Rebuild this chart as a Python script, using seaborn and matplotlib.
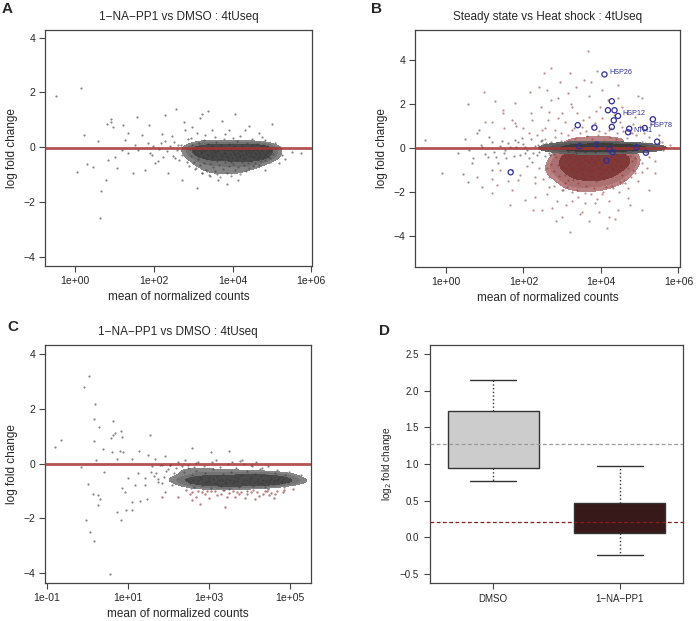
import numpy as np
import pandas as pd
import seaborn as sns
import matplotlib.pyplot as plt
from matplotlib.ticker import NullLocator
from matplotlib.colors import LinearSegmentedColormap

sns.set_style("ticks")
plt.rcParams['font.family'] = ['Liberation Sans', 'DejaVu Sans']

# ========== DATA (log10 mean of normalized counts, log fold change) ==========
# Panel A: 1-NA-PP1 vs DMSO, all points non-significant (grey)
a_sparse = [(-0.50, 1.89), (0.14, 2.18), (0.63, -2.59), (0.655, -1.58), (0.04, -0.90), (0.23, 0.45),
            (0.30, -0.62), (0.44, -0.73), (0.77, -1.20), (0.81, 0.84), (0.92, 1.05), (0.90, 0.92),
            (0.97, 0.74), (1.21, 0.83), (1.33, 0.52), (1.57, 1.11), (1.88, 0.83), (2.28, 1.18),
            (2.56, 1.41), (2.76, 0.94), (2.96, 0.74), (3.18, 1.07), (3.22, 1.20), (3.37, 1.33),
            (3.72, 0.97), (4.06, 1.23), (4.41, 0.77), (5.00, 0.84), (5.21, 0.00), (5.51, -0.16),
            (5.73, -0.20), (2.72, -1.18), (3.10, -1.50), (3.87, -1.34), (3.43, -1.06), (4.45, -0.77),
            (5.34, -0.43), (1.02, -0.37), (1.48, -0.94), (1.77, -0.84), (2.03, -0.57), (2.37, -0.94),
            (1.05, -0.75), (0.59, 0.22), (1.27, 0.28), (1.69, 0.46), (2.20, 0.50), (2.45, 0.40),
            (2.79, 0.64), (1.35, -0.21), (1.60, -0.09), (1.94, -0.27), (2.11, -0.51), (2.54, -0.39),
            (2.88, -0.69), (0.82, -0.45), (1.18, -0.09), (1.52, 0.10), (1.86, 0.16), (2.28, 0.22),
            (2.62, 0.10), (2.71, -0.27), (3.90, 0.64), (4.32, 0.64), (4.66, 0.52), (4.83, 0.28),
            (5.08, 0.16), (5.17, -0.57), (4.83, -0.82), (4.15, -1.18), (3.64, -1.18), (3.22, -0.94),
            (3.47, 0.64), (3.09, 0.52), (2.32, -0.12), (2.40, 0.05), (2.48, -0.30), (2.52, 0.18),
            (2.58, -0.08), (2.63, -0.45), (2.68, 0.10), (2.74, -0.20), (2.80, 0.02), (2.84, -0.55),
            (2.87, 0.30), (2.90, -0.15), (2.12, -0.05), (2.18, 0.15), (2.24, -0.35), (1.98, 0.05),
            (1.90, -0.20), (3.30, 0.45), (3.55, 0.38), (3.80, 0.50), (4.00, 0.35), (4.20, 0.42),
            (4.50, 0.30), (4.75, 0.36), (3.35, -0.85), (3.60, -0.98), (3.95, -0.92), (4.25, -0.88),
            (4.55, -0.70), (4.95, -0.55), (5.10, -0.35), (5.25, -0.28), (3.05, -0.80), (2.95, 0.35)]
a_core = [(2.92, -0.05), (2.95, -0.31), (2.98, 0.08), (3.01, -0.52), (3.03, -0.12), (3.06, -0.74),
          (3.08, 0.02), (3.10, -0.25), (3.12, -0.41), (3.14, 0.15), (3.16, -0.08), (3.18, -0.63),
          (3.19, -0.19), (3.21, -0.95), (3.23, -0.03), (3.25, -0.35), (3.27, 0.27), (3.28, -0.56),
          (3.30, -0.14), (3.32, -0.81), (3.33, -0.02), (3.35, -0.44), (3.37, 0.11), (3.38, -0.27),
          (3.40, -1.02), (3.42, -0.09), (3.43, -0.60), (3.45, -0.21), (3.47, 0.04), (3.48, -0.37),
          (3.50, -0.72), (3.52, -0.05), (3.53, -0.18), (3.55, -0.88), (3.57, 0.19), (3.58, -0.31),
          (3.60, -0.50), (3.62, -0.02), (3.63, -0.13), (3.65, -0.66), (3.67, -0.26), (3.68, -1.10),
          (3.70, 0.08), (3.72, -0.42), (3.73, -0.07), (3.75, -0.79), (3.77, -0.20), (3.78, 0.31),
          (3.80, -0.55), (3.82, -0.04), (3.83, -0.33), (3.85, -0.93), (3.87, -0.11), (3.88, -0.47),
          (3.90, 0.12), (3.92, -0.68), (3.93, -0.24), (3.95, -0.03), (3.97, -1.04), (3.98, -0.38),
          (4.00, -0.15), (4.02, -0.60), (4.03, 0.05), (4.05, -0.29), (4.07, -0.84), (4.08, -0.06),
          (4.10, -0.45), (4.12, 0.22), (4.13, -0.19), (4.15, -0.73), (4.17, -0.02), (4.18, -0.36),
          (4.20, -0.97), (4.22, -0.12), (4.23, -0.53), (4.25, 0.09), (4.27, -0.27), (4.28, -0.65),
          (4.30, -0.04), (4.32, -0.40), (4.33, -0.86), (4.35, -0.16), (4.37, 0.16), (4.38, -0.58),
          (4.40, -0.08), (4.42, -0.33), (4.43, -0.76), (4.45, -0.02), (4.47, -0.22), (4.48, -0.49),
          (4.50, 0.07), (4.52, -0.68), (4.53, -0.14), (4.55, -0.37), (4.57, -0.03), (4.58, -0.57),
          (4.60, -0.25), (4.62, 0.12), (4.63, -0.44), (4.65, -0.09), (4.67, -0.63), (4.68, -0.18),
          (4.70, -0.31), (4.72, 0.03), (4.73, -0.50), (4.75, -0.12), (4.77, -0.38), (4.78, 0.10),
          (4.80, -0.22), (4.82, -0.45), (4.84, -0.06), (4.86, -0.29), (4.88, 0.05), (4.90, -0.35),
          (4.93, -0.15), (4.96, -0.40), (4.99, -0.08), (5.03, -0.25),
          (3.00, -0.06), (3.09, -0.09), (3.17, -0.04), (3.26, -0.10), (3.34, -0.07), (3.41, -0.03),
          (3.49, -0.11), (3.56, -0.06), (3.64, -0.08), (3.71, -0.02), (3.79, -0.10), (3.86, -0.05),
          (3.94, -0.09), (4.01, -0.03), (4.09, -0.07), (4.16, -0.11), (4.24, -0.05), (4.31, -0.09),
          (4.39, -0.03), (4.46, -0.08), (4.54, -0.06), (4.61, -0.10), (4.69, -0.04), (4.76, -0.07),
          (4.83, -0.02), (4.91, -0.05),
          (3.04, -0.22), (3.13, -0.30), (3.22, -0.17), (3.29, -0.40), (3.36, -0.23), (3.44, -0.46),
          (3.51, -0.28), (3.59, -0.16), (3.66, -0.41), (3.74, -0.30), (3.81, -0.19), (3.89, -0.34),
          (3.96, -0.52), (4.04, -0.21), (4.11, -0.36), (4.19, -0.27), (4.26, -0.43), (4.34, -0.24),
          (4.41, -0.17), (4.49, -0.32), (4.56, -0.20), (4.64, -0.35), (4.71, -0.23), (4.79, -0.30),
          (4.87, -0.17)]

# Panel B: steady state vs heat shock
b_grey_sparse = [(0.58, 2.02), (0.84, 0.83), (0.79, 0.68), (-0.54, 0.38), (-0.11, -1.14), (0.45, -1.18),
                 (0.58, -1.52), (1.35, -0.68), (1.09, -0.38), (1.53, -0.08), (1.78, 0.38), (2.04, -0.23),
                 (2.21, -0.61), (2.47, 0.38), (2.65, -0.23), (0.92, 0.08), (0.66, -0.68), (1.18, -0.98),
                 (2.30, 0.10), (2.40, -0.15), (2.50, 0.20), (2.60, -0.05), (2.70, 0.30), (2.80, -0.25),
                 (2.90, 0.12), (3.00, -0.18), (2.45, 0.35), (2.55, -0.35), (2.65, 0.08), (2.75, -0.10),
                 (2.85, 0.25), (2.95, -0.02), (2.00, 0.20), (2.10, -0.10), (2.20, 0.40), (1.90, -0.30),
                 (1.80, 0.05), (1.60, 0.25), (1.50, -0.20), (1.40, 0.12), (2.15, -0.45), (2.35, -0.30),
                 (1.95, 0.45), (1.30, -0.40), (1.20, 0.30), (1.00, -0.25), (0.90, 0.15), (0.70, -0.45),
                 (5.00, 0.15), (5.10, -0.05), (5.20, 0.10), (5.30, 0.02), (5.45, 0.12), (5.60, -0.08),
                 (0.30, -0.20), (0.50, 0.40), (0.60, -0.10), (1.10, 0.50), (1.25, -0.15), (1.45, 0.35),
                 (1.55, -0.45), (1.65, 0.05), (1.75, -0.35), (1.85, 0.30), (2.05, 0.05), (2.25, -0.20),
                 (2.38, 0.15), (2.52, -0.05), (2.58, 0.25), (2.68, -0.30), (2.78, 0.10), (2.88, -0.12),
                 (2.98, 0.32), (3.05, 0.12), (5.05, 0.30), (5.15, -0.15), (5.25, 0.20), (5.35, -0.10),
                 (5.50, 0.25)]
b_grey_core = [(3.10, 0.05), (3.15, -0.12), (3.20, 0.18), (3.25, -0.05), (3.30, 0.10), (3.35, -0.20),
               (3.40, 0.02), (3.45, 0.25), (3.50, -0.08), (3.55, 0.12), (3.60, -0.15), (3.65, 0.04),
               (3.70, 0.20), (3.75, -0.03), (3.80, 0.08), (3.85, -0.18), (3.90, 0.15), (3.95, -0.06),
               (4.00, 0.03), (4.05, 0.22), (4.10, -0.10), (4.15, 0.06), (4.20, -0.02), (4.25, 0.14),
               (4.30, -0.12), (4.35, 0.05), (4.40, 0.18), (4.45, -0.05), (4.50, 0.08), (4.55, -0.14),
               (4.60, 0.02), (4.65, 0.12), (4.70, -0.04), (4.75, 0.06), (4.80, -0.10), (4.85, 0.10),
               (4.90, 0.00), (4.95, 0.05), (3.13, 0.00), (3.23, 0.06), (3.33, -0.02), (3.43, 0.08),
               (3.53, 0.01), (3.63, -0.04), (3.73, 0.05), (3.83, 0.02), (3.93, -0.01), (4.03, 0.07),
               (4.13, 0.00), (4.23, 0.04), (4.33, -0.03), (4.43, 0.06), (4.53, 0.01), (4.63, -0.02),
               (4.73, 0.03), (4.83, 0.04)]
b_red_sparse = [(3.67, 4.42), (2.71, 3.64), (2.52, 3.41), (3.20, 3.44), (3.55, 3.11), (3.89, 3.52),
                (0.97, 2.56), (1.27, 2.15), (1.77, 2.05), (2.17, 2.55), (2.60, 2.65), (2.90, 2.27),
                (3.16, 2.50), (4.02, 2.65), (4.45, 2.27), (5.06, 2.27), (1.46, 1.74), (1.46, 1.59),
                (1.18, 1.21), (1.78, 1.14), (2.21, 1.29), (2.65, 1.67), (2.99, 1.59), (3.25, 1.89),
                (3.68, 1.44), (3.98, 1.89), (4.54, 1.89), (4.88, 1.44), (5.23, 0.53), (5.57, 0.30),
                (5.79, 0.15), (0.92, -1.74), (1.18, -2.05), (1.31, -1.67), (1.65, -2.58), (1.70, -1.89),
                (2.04, -2.35), (2.30, -2.20), (2.73, -2.73), (2.99, -3.11), (3.21, -3.79), (3.68, -3.33),
                (4.15, -3.64), (4.20, -3.11), (4.45, -2.80), (5.06, -2.83), (4.71, -2.27), (5.23, -1.89),
                (5.40, -1.14), (2.47, -2.80), (3.25, -2.42), (3.85, -2.50), (3.51, -2.88), (1.70, -0.98),
                (1.87, -1.44), (2.30, -1.29), (2.65, -1.74), (2.82, 0.83), (2.47, 0.83), (2.13, 0.68),
                (1.70, 1.29), (3.25, 0.83), (3.51, 0.98), (3.85, 1.14), (4.20, 0.83), (4.54, 0.98),
                (4.80, 0.68), (5.14, 0.23), (5.23, -0.38), (5.06, -0.68), (4.88, -1.14), (4.63, -1.59),
                (2.99, -1.89), (2.90, -1.14),
                (2.00, 0.90), (2.10, -0.80), (2.20, 1.60), (2.30, -1.60), (2.35, 0.60), (2.40, -0.90),
                (2.45, 1.90), (2.50, -1.40), (2.55, 0.90), (2.60, -2.10), (2.62, 1.30), (2.68, -0.60),
                (2.72, 2.20), (2.78, -1.70), (2.82, 0.50), (2.86, -2.40), (2.90, 1.40), (2.94, -1.30),
                (2.98, 0.70), (3.02, -1.90), (3.06, 1.20), (3.10, -2.60), (3.14, 0.60), (3.18, -1.50),
                (3.22, 2.00), (3.26, -2.00), (3.30, 0.90), (3.34, -1.70), (3.38, 1.60), (3.42, -2.20),
                (3.46, 0.70), (3.50, -1.80), (3.54, 1.30), (3.58, -2.50), (3.62, 0.80), (3.66, -1.60),
                (3.70, 2.40), (3.74, -2.10), (3.78, 1.00), (3.82, -1.40), (3.86, 1.70), (3.90, -2.30),
                (3.94, 0.80), (3.98, -1.70), (4.02, 1.40), (4.06, -2.00), (4.10, 0.70), (4.14, -1.50),
                (4.18, 2.20), (4.22, -2.40), (4.26, 0.90), (4.30, -1.80), (4.34, 1.50), (4.38, -1.30),
                (4.42, 0.70), (4.46, -2.00), (4.50, 1.20), (4.54, -1.60), (4.58, 0.80), (4.62, -1.10),
                (4.66, 1.60), (4.70, -1.80), (4.74, 0.70), (4.78, -1.30), (4.82, 1.10), (4.86, -0.90),
                (4.90, 0.60), (4.95, -1.50), (5.00, 1.00), (5.05, -1.10), (5.12, 0.70), (5.20, -0.90),
                (5.30, 1.10), (5.40, -0.60), (5.50, 0.60), (1.90, -1.20), (1.80, 1.00), (1.60, -1.50),
                (1.50, 0.90), (1.40, -1.00), (1.20, -1.40), (1.00, 1.20), (0.80, -1.30), (2.25, -2.80),
                (2.85, -3.30), (3.45, -3.00), (3.95, -2.90), (4.35, -3.20), (4.75, -2.60), (2.40, 2.80),
                (2.95, 3.00), (3.35, 2.80), (3.75, 3.00), (4.45, 2.90), (4.95, 2.40)]
b_red_core = [(2.95, -0.45), (3.00, -0.85), (3.03, -0.30), (3.06, -1.20), (3.09, -0.60), (3.12, -0.15),
              (3.14, -1.45), (3.17, -0.75), (3.20, -0.40), (3.22, -1.00), (3.25, -0.22), (3.27, -0.90),
              (3.30, -0.55), (3.32, -1.30), (3.35, -0.35), (3.37, -0.70), (3.40, -1.60), (3.42, -0.48),
              (3.45, -0.95), (3.47, -0.20), (3.50, -0.65), (3.52, -1.15), (3.55, -0.38), (3.57, -0.82),
              (3.60, -1.40), (3.62, -0.52), (3.65, -0.28), (3.67, -0.98), (3.70, -0.62), (3.72, -1.25),
              (3.75, -0.42), (3.77, -0.78), (3.80, -0.18), (3.82, -1.05), (3.85, -0.58), (3.87, -1.50),
              (3.90, -0.35), (3.92, -0.88), (3.95, -0.50), (3.97, -1.18), (4.00, -0.25), (4.02, -0.72),
              (4.05, -0.45), (4.07, -1.00), (4.10, -0.60), (4.12, -1.32), (4.15, -0.30), (4.17, -0.85),
              (4.20, -0.55), (4.22, -1.10), (4.25, -0.38), (4.27, -0.70), (4.30, -0.20), (4.32, -0.95),
              (4.35, -0.48), (4.38, -0.78), (4.41, -0.32), (4.44, -1.05), (4.47, -0.60), (4.50, -0.40),
              (4.53, -0.82), (4.57, -0.28), (4.61, -0.65), (4.65, -0.45), (4.70, -0.90), (4.75, -0.35),
              (4.80, -0.60), (4.88, -0.42),
              (3.05, 0.25), (3.18, 0.35), (3.33, 0.45), (3.48, 0.30), (3.63, 0.55), (3.78, 0.40),
              (3.93, 0.60), (4.08, 0.35), (4.23, 0.50), (4.38, 0.42), (4.53, 0.30), (4.68, 0.48),
              (4.85, 0.25), (3.12, -1.75), (3.38, -1.90), (3.58, -2.05), (3.83, -1.80), (4.03, -2.10),
              (4.28, -1.70), (4.48, -1.55), (2.70, -0.70), (2.80, -1.05), (2.85, -0.40), (2.60, -0.90),
              (2.75, 0.20), (2.55, 0.40), (2.65, -1.30),
              (3.10, -0.95), (3.24, -0.62), (3.36, -1.10), (3.46, -0.78), (3.58, -0.55), (3.68, -0.85),
              (3.78, -0.50), (3.88, -0.72), (3.98, -0.90), (4.08, -0.55), (4.18, -0.68), (4.28, -0.88),
              (4.40, -0.58), (3.53, -0.92), (3.73, -1.02), (3.93, -1.28), (4.13, -0.95), (3.43, -0.68),
              (3.83, -0.62), (4.03, -1.12),
              (3.15, -0.35), (3.28, -1.45), (3.41, -0.25), (3.54, -1.35), (3.66, -0.60), (3.79, -1.30),
              (3.91, -0.15), (4.04, -1.40), (4.16, -0.50), (4.29, -1.25), (4.42, -0.15), (4.55, -1.20),
              (4.68, -0.70), (4.82, -1.00), (2.88, -0.75), (2.92, -1.25), (3.08, -1.60), (3.62, -1.70),
              (4.12, -1.75), (4.60, -1.45)]
b_hsp = [(4.09, 3.36), (4.28, 2.14), (4.18, 1.73), (4.35, 1.73), (4.44, 1.47), (4.33, 1.27),
         (3.40, 1.05), (3.83, 0.94), (4.28, 0.97), (4.73, 0.89), (4.70, 0.73), (5.34, 1.32),
         (5.13, 0.92), (5.45, 0.30), (4.92, 0.05), (3.44, 0.09), (3.89, 0.17), (4.22, -0.05),
         (4.30, -0.18), (5.16, -0.20), (4.14, -0.56), (1.67, -1.09)]
b_gene_names = ['HSP26', 'HSP12', 'HSP78', 'NTH1']
b_gene_points = [(4.09, 3.36), (4.44, 1.47), (5.13, 0.92), (4.70, 0.73)]

# Panel C: 1-NA-PP1 vs DMSO (second 4tUseq)
c_grey_sparse = [(0.04, 3.22), (-0.07, 2.81), (0.20, 2.17), (0.16, 1.62), (0.29, 1.35), (0.18, 0.82),
                 (-0.79, 0.62), (-0.65, 0.88), (0.64, 1.58), (0.59, 0.95), (0.70, 1.13), (0.65, 1.05),
                 (0.84, 1.20), (0.86, 0.99), (1.56, 1.06), (0.40, 0.54), (0.61, 0.44), (0.81, 0.47),
                 (0.89, 0.44), (0.75, 0.19), (-0.15, -0.12), (0.22, 0.15), (0.42, -0.32), (0.01, -0.75),
                 (0.14, -1.12), (0.28, -1.14), (0.32, -1.29), (0.26, -1.51), (-0.02, -2.06), (0.08, -2.49),
                 (0.16, -2.82), (0.56, -4.02), (0.73, -1.75), (0.83, -2.07), (0.95, -1.68), (1.12, -1.70),
                 (0.94, -1.02), (1.12, -1.39), (1.31, -1.36), (1.47, -1.29), (1.02, -0.54), (1.26, -0.35),
                 (1.43, -0.78), (1.10, 0.19), (1.29, 0.46), (1.51, 0.32), (1.68, 0.19), (1.92, 0.29),
                 (2.58, 0.58), (3.06, 0.44), (3.50, 0.46), (3.83, 0.13), (3.57, 0.05), (1.84, -0.05),
                 (1.59, -0.29), (1.76, -0.66), (1.92, -1.02), (2.09, -0.78), (1.43, -0.54), (0.85, -0.90),
                 (1.18, -0.78), (2.05, -0.05), (2.25, 0.07), (2.42, 0.13), (2.75, 0.05), (4.06, -0.05),
                 (4.31, -0.17), (4.56, -0.29), (4.72, -0.41), (5.09, -0.47), (5.13, -0.66), (5.28, -0.41),
                 (1.60, -0.10), (1.70, -0.35), (1.80, -0.05), (1.90, -0.48), (2.00, -0.20), (2.10, -0.60),
                 (2.20, -0.15), (2.30, -0.40), (1.75, -0.55), (1.95, -0.25), (2.05, -0.05), (2.15, -0.35),
                 (2.25, -0.70), (2.35, -0.10), (1.85, -0.70), (1.65, -0.45),
                 (2.48, -0.05), (2.68, 0.02), (2.88, -0.10), (3.08, 0.05), (3.28, -0.12), (3.48, -0.02),
                 (3.68, -0.15), (3.88, 0.00), (4.08, -0.08), (4.28, -0.18), (4.48, -0.10), (4.68, -0.22),
                 (3.18, 0.12), (3.78, 0.10), (4.18, 0.05), (2.38, -0.50), (2.44, -0.22), (2.56, -0.88),
                 (2.64, -0.12), (2.86, -0.92), (3.38, -0.95), (3.96, -0.98), (4.46, -0.92), (4.86, -0.85),
                 (4.98, -0.30), (4.92, -0.78), (2.32, -0.62), (2.18, -0.52)]
c_grey_core = [(2.40, -0.30), (2.45, -0.55), (2.50, -0.15), (2.55, -0.70), (2.60, -0.42), (2.65, -0.85),
               (2.70, -0.25), (2.75, -0.60), (2.80, -0.48), (2.85, -0.78), (2.90, -0.35), (2.95, -0.65),
               (3.00, -0.52), (3.05, -0.88), (3.10, -0.20), (3.15, -0.70), (3.20, -0.45), (3.25, -0.60),
               (3.30, -0.82), (3.35, -0.38), (3.40, -0.66), (3.45, -0.55), (3.50, -0.92), (3.55, -0.30),
               (3.60, -0.72), (3.65, -0.48), (3.70, -0.62), (3.75, -0.85), (3.80, -0.40), (3.85, -0.58),
               (3.90, -0.75), (3.95, -0.25), (4.00, -0.68), (4.05, -0.50), (4.10, -0.80), (4.15, -0.36),
               (4.20, -0.62), (4.25, -0.72), (4.30, -0.45), (4.35, -0.58), (4.40, -0.85), (4.45, -0.40),
               (4.50, -0.66), (4.55, -0.52), (4.60, -0.75), (4.65, -0.35), (4.70, -0.60), (4.75, -0.48),
               (4.80, -0.70), (4.85, -0.55), (4.90, -0.40), (4.95, -0.65),
               (2.52, -0.62), (2.62, -0.58), (2.72, -0.72), (2.82, -0.55), (2.92, -0.68), (3.02, -0.62),
               (3.12, -0.55), (3.22, -0.75), (3.32, -0.60), (3.42, -0.70), (3.52, -0.58), (3.62, -0.64),
               (3.72, -0.52), (3.82, -0.70), (3.92, -0.60), (4.02, -0.57), (4.12, -0.66), (4.22, -0.55),
               (4.32, -0.70), (4.42, -0.62), (4.52, -0.58), (4.62, -0.64), (4.72, -0.56), (4.82, -0.62)]
c_red = [(4.87, -0.96), (5.09, -0.94), (4.62, -1.27), (4.15, -1.29), (3.40, -1.57), (2.80, -1.48),
         (2.58, -1.33), (2.25, -1.20), (1.84, -1.20),
         (2.45, -0.95), (2.60, -1.05), (2.75, -0.98), (2.90, -1.12), (3.05, -1.00), (3.20, -1.15),
         (3.35, -0.96), (3.50, -1.08), (3.65, -1.20), (3.80, -1.02), (3.95, -1.10), (4.10, -0.95),
         (4.25, -1.18), (4.40, -1.00), (4.55, -1.06), (4.70, -0.98), (4.85, -1.05), (2.70, -1.20),
         (3.00, -1.25), (3.30, -1.10), (3.60, -0.98), (3.90, -1.25), (4.20, -1.02), (4.50, -1.15),
         (2.55, -1.12), (3.15, -0.98), (3.75, -1.12), (4.35, -1.10), (2.95, -0.98), (3.45, -1.22),
         (4.05, -1.05), (4.65, -1.12), (2.85, -1.02), (3.70, -1.02), (4.45, -0.98)]

# Panel D: box summaries (whisker low, Q1, median, Q3, whisker high)
d_conditions = ['DMSO', '1\u2212NA\u2212PP1']
d_dmso = [0.77, 0.95, 1.28, 1.73, 2.15]
d_napp1 = [-0.24, 0.05, 0.21, 0.46, 0.97]
d_colors = ['#cccccc', '#3d1414']

GREY = '#333333'
RED = '#8e2a2a'
W, H = 697, 621


def frame(pairs):
    df = pd.DataFrame(pairs, columns=['lmean', 'lfc'])
    df['mean'] = 10 ** df['lmean']
    return df


def style_ma(ax, xexp, ylim, xtick_exp, title):
    ax.set_xscale('log')
    ax.set_xlim(10 ** xexp[0], 10 ** xexp[1])
    ax.set_ylim(*ylim)
    ax.set_xticks([10.0 ** e for e in xtick_exp])
    ax.set_xticklabels(['1e%+03d' % e for e in xtick_exp])
    ax.xaxis.set_minor_locator(NullLocator())
    ax.set_yticks([-4, -2, 0, 2, 4])
    ax.set_yticklabels(['\u22124', '\u22122', '0', '2', '4'])
    ax.set_xlabel('mean of normalized counts', fontsize=8.5)
    ax.set_ylabel('log fold change', fontsize=8.5)
    ax.set_title(title, fontsize=8.5, pad=7)
    ax.tick_params(length=4, width=0.8, color='#444444', labelsize=7.5, pad=3)
    for sp in ax.spines.values():
        sp.set_visible(True)
        sp.set_color('#444444')
        sp.set_linewidth(0.9)


def scatter(ax, pairs, color, s=2.5, alpha=0.6):
    df = frame(pairs)
    sns.scatterplot(data=df, x='mean', y='lfc', ax=ax, color=color, s=s,
                    alpha=alpha, linewidth=0, legend=False)


def density(ax, pairs, light, dark, thresh=0.1, bw=1.0):
    # dense cores of the MA clouds: opaque density shading of the core points
    df = frame(pairs)
    cmap = LinearSegmentedColormap.from_list('core', [light, dark])
    sns.kdeplot(data=df, x='mean', y='lfc', ax=ax, fill=True,
                levels=[thresh, thresh + 0.12, thresh + 0.3, 1.0],
                cmap=cmap, bw_adjust=bw, log_scale=(True, False), antialiased=False)


fig = plt.figure(figsize=(W / 100, H / 100), dpi=100)
ax_a = fig.add_axes([45 / W, (H - 266) / H, 267 / W, 236 / H])
ax_b = fig.add_axes([415 / W, (H - 267) / H, 265 / W, 237 / H])
ax_c = fig.add_axes([45 / W, (H - 583) / H, 266 / W, 238 / H])
ax_d = fig.add_axes([430 / W, (H - 583) / H, 253 / W, 238 / H])

# ---- A ----
scatter(ax_a, a_sparse, GREY)
density(ax_a, a_core, '#8c8c8c', '#2b2b2b', thresh=0.12, bw=1.1)
scatter(ax_a, a_core, GREY, s=2.5, alpha=0.5)
ax_a.axhline(-0.02, color='#a83434', lw=2.0, alpha=0.85, zorder=3)
style_ma(ax_a, (-0.77, 6.02), (-4.33, 4.28), [0, 2, 4, 6],
         '1\u2212NA\u2212PP1 vs DMSO : 4tUseq')

# ---- B ----
scatter(ax_b, b_red_sparse, RED, alpha=0.55)
density(ax_b, b_red_core, '#c08a8a', '#5e1212', thresh=0.15, bw=1.0)
scatter(ax_b, b_red_core, RED, s=2.5, alpha=0.5)
scatter(ax_b, b_grey_sparse, GREY, alpha=0.55)
density(ax_b, b_grey_core, '#6a6a6a', '#262626', thresh=0.1, bw=2.0)
scatter(ax_b, b_grey_core, GREY, s=2.5, alpha=0.5)
ax_b.axhline(0, color='#a83434', lw=2.0, alpha=0.85, zorder=3)
hsp = frame(b_hsp)
sns.scatterplot(data=hsp, x='mean', y='lfc', ax=ax_b, s=14, facecolor='none',
                edgecolor='#2f2f99', linewidth=0.9, legend=False, zorder=4)
for name, (lx, y) in zip(b_gene_names, b_gene_points):
    ax_b.annotate(name, (10 ** lx, y), xytext=(3.5, 1.5), textcoords='offset points',
                  fontsize=5.2, color='#2f2f99', va='center', ha='left', zorder=5)
style_ma(ax_b, (-0.80, 6.04), (-5.4, 5.38), [0, 2, 4, 6],
         'Steady state vs Heat shock : 4tUseq')

# ---- C ----
scatter(ax_c, c_red, RED, s=3, alpha=0.6)
scatter(ax_c, c_grey_sparse, GREY)
density(ax_c, c_grey_core, '#8c8c8c', '#2b2b2b', thresh=0.12, bw=1.2)
scatter(ax_c, c_grey_core, GREY, s=2.5, alpha=0.5)
ax_c.axhline(0, color='#a83434', lw=2.0, alpha=0.85, zorder=3)
style_ma(ax_c, (-1.04, 5.53), (-4.36, 4.34), [-1, 1, 3, 5],
         '1\u2212NA\u2212PP1 vs DMSO : 4tUseq')

# ---- D ----
box_df = pd.DataFrame({
    'cond': [d_conditions[0]] * len(d_dmso) + [d_conditions[1]] * len(d_napp1),
    'val': d_dmso + d_napp1,
})
sns.boxplot(data=box_df, x='cond', y='val', hue='cond', order=d_conditions,
            hue_order=d_conditions, palette=d_colors, legend=False, ax=ax_d,
            width=0.72, whis=(0, 100), linecolor='#333333', linewidth=1.0,
            whiskerprops={'linestyle': ':'}, medianprops={'visible': False})
ax_d.axhline(d_dmso[2], color='#999999', lw=0.9, ls=(0, (3, 2)), zorder=3)
ax_d.axhline(d_napp1[2], color='#8b1e1e', lw=0.9, ls=(0, (3, 2)), zorder=3)
ax_d.set_xlim(-0.5, 1.5)
ax_d.set_ylim(-0.63, 2.63)
ax_d.set_yticks([-0.5, 0, 0.5, 1, 1.5, 2, 2.5])
ax_d.set_yticklabels(['\u22120.5', '0.0', '0.5', '1.0', '1.5', '2.0', '2.5'])
ax_d.set_xlabel('')
ax_d.set_ylabel('log$_2$ fold change', fontsize=7.2)
ax_d.tick_params(length=4, width=0.8, color='#444444', labelsize=7, pad=4)
for sp in ax_d.spines.values():
    sp.set_visible(True)
    sp.set_color('#444444')
    sp.set_linewidth(0.9)

# panel letters
for letter, (px, py) in zip('ABCD', [(2, 2), (371, 2), (7, 320), (379, 324)]):
    fig.text(px / W, 1 - py / H, letter, fontsize=11, fontweight='bold',
             ha='left', va='top')

fig.savefig('out.png', dpi=100)
